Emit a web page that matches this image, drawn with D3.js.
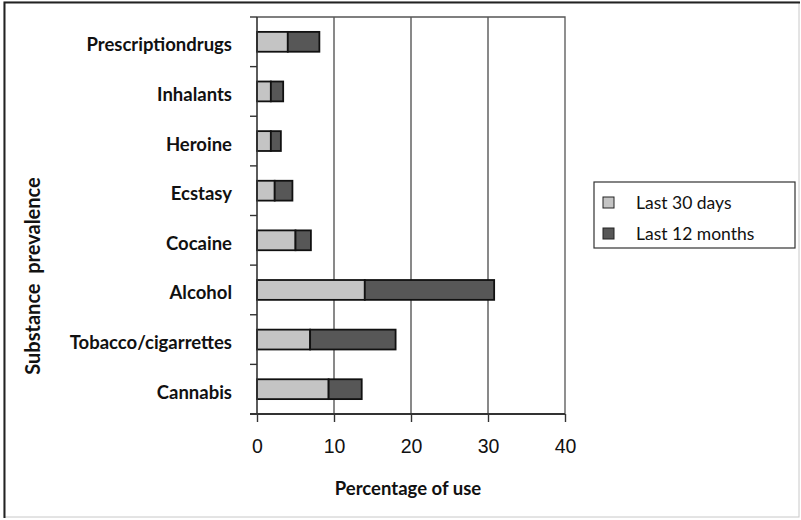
<!DOCTYPE html>
<html>
<head>
<meta charset="utf-8">
<script src="https://cdn.jsdelivr.net/npm/d3@7"></script>
<style>
  html, body { margin: 0; padding: 0; background: #fff; }
  svg { display: block; }
</style>
</head>
<body>
<svg id="chart" width="801" height="520"></svg>
<script>
// Substances, top to bottom
const categories = ["Prescriptiondrugs", "Inhalants", "Heroine", "Ecstasy", "Cocaine", "Alcohol", "Tobacco/cigarrettes", "Cannabis"];
// Percentage of use, last 30 days
const last30Days = [4.0, 1.8, 1.8, 2.3, 5.0, 14.0, 6.9, 9.3];
// Additional share for last 12 months (stacked on top of last 30 days)
const last12Months = [4.1, 1.6, 1.3, 2.3, 2.0, 16.8, 11.1, 4.3];
const seriesNames = ["Last 30 days", "Last 12 months"];
const xTicks = [0, 10, 20, 30, 40];

const colors = ["#c4c4c4", "#575757"];
const svg = d3.select("#chart");

// Outer frame
svg.append("rect").attr("x", 4).attr("y", 2).attr("width", 795).attr("height", 515)
  .attr("fill", "none").attr("stroke", "#c8c8c8").attr("stroke-width", 1);
svg.append("path").attr("d", "M4.5,518V2.5H800").attr("fill", "none")
  .attr("stroke", "#222").attr("stroke-width", 2);

const plotLeft = 257, plotRight = 565, plotTop = 17, plotBottom = 414;

const x = d3.scaleLinear().domain([0, 40]).range([plotLeft, plotRight]);
const y = d3.scaleBand().domain(categories).range([plotTop, plotBottom])
  .paddingInner(0.6).paddingOuter(0.3);

// Gridlines and plot border
svg.append("g").selectAll("line").data(xTicks.filter(d => d > 0 && d < 40)).join("line")
  .attr("x1", d => x(d)).attr("x2", d => x(d)).attr("y1", plotTop).attr("y2", plotBottom)
  .attr("stroke", "#4a4a4a").attr("stroke-width", 1.3);
svg.append("path").attr("d", `M${plotLeft},${plotTop}H${plotRight}V${plotBottom}`)
  .attr("fill", "none").attr("stroke", "#555").attr("stroke-width", 1.3);

// Stacked bars
const rows = categories.map((c, i) => ({ cat: c, v: [last30Days[i], last12Months[i]] }));
const stack = d3.stack().keys([0, 1]).value((d, k) => d.v[k]);
const layers = stack(rows);
svg.append("g").selectAll("g").data(layers).join("g")
  .attr("fill", (d, i) => colors[i])
  .selectAll("rect").data(d => d).join("rect")
  .attr("x", d => x(d[0])).attr("width", d => x(d[1]) - x(d[0]))
  .attr("y", d => y(d.data.cat)).attr("height", y.bandwidth())
  .attr("stroke", "#111").attr("stroke-width", 1.8);

// Y axis line and boundary ticks
const step = y.step();
const bounds = d3.range(categories.length + 1).map(i => plotTop + i * step);
svg.append("line").attr("x1", plotLeft).attr("x2", plotLeft).attr("y1", plotTop).attr("y2", plotBottom)
  .attr("stroke", "#333").attr("stroke-width", 1.6);
svg.append("g").selectAll("line").data(bounds).join("line")
  .attr("x1", plotLeft - 7).attr("x2", plotLeft).attr("y1", d => d).attr("y2", d => d)
  .attr("stroke", "#333").attr("stroke-width", 1.4);

// Category labels
svg.append("g").selectAll("text").data(categories).join("text")
  .attr("x", 232).attr("y", d => y(d) + y.bandwidth() / 2 + 3)
  .attr("dy", "0.35em").attr("text-anchor", "end")
  .attr("font-family", "Lato, 'Open Sans', sans-serif").attr("font-weight", "bold")
  .attr("font-size", 18.5).attr("fill", "#111").text(d => d);

// X axis
const xAxis = d3.axisBottom(x).tickValues(xTicks).tickSize(8).tickPadding(17);
const gx = svg.append("g").attr("transform", `translate(0,${plotBottom})`).call(xAxis);
gx.select(".domain").remove();
gx.append("line").attr("x1", plotLeft - 7).attr("x2", plotRight).attr("y1", 0).attr("y2", 0)
  .attr("stroke", "#333").attr("stroke-width", 2);
gx.selectAll(".tick line").attr("stroke", "#333").attr("stroke-width", 1.4);
gx.selectAll(".tick text").attr("font-family", "'Liberation Sans', Arial, sans-serif")
  .attr("font-size", 19.5).attr("fill", "#111");

// Axis titles
svg.append("text").attr("x", 408).attr("y", 495).attr("text-anchor", "middle")
  .attr("font-family", "Lato, 'Open Sans', sans-serif").attr("font-weight", "bold")
  .attr("font-size", 18.5).attr("fill", "#111").text("Percentage of use");
svg.append("text").attr("transform", "translate(40,276) rotate(-90)")
  .attr("text-anchor", "middle").attr("xml:space", "preserve")
  .attr("font-family", "Lato, 'Open Sans', sans-serif").attr("font-weight", "bold")
  .attr("font-size", 20).attr("fill", "#111").text("Substance  prevalence");

// Legend
const lg = svg.append("g");
lg.append("rect").attr("x", 594).attr("y", 182).attr("width", 201).attr("height", 66)
  .attr("fill", "#fff").attr("stroke", "#333").attr("stroke-width", 1.2);
const items = lg.selectAll("g").data(seriesNames).join("g")
  .attr("transform", (d, i) => `translate(603,${197 + i * 31})`);
items.append("rect").attr("width", 11).attr("height", 11)
  .attr("fill", (d, i) => colors[i]).attr("stroke", "#222").attr("stroke-width", 1);
items.append("text").attr("x", 33).attr("y", 6).attr("dy", "0.35em")
  .attr("font-family", "Lato, 'Open Sans', sans-serif").attr("font-size", 17.5)
  .attr("fill", "#111").text(d => d);
</script>
</body>
</html>
